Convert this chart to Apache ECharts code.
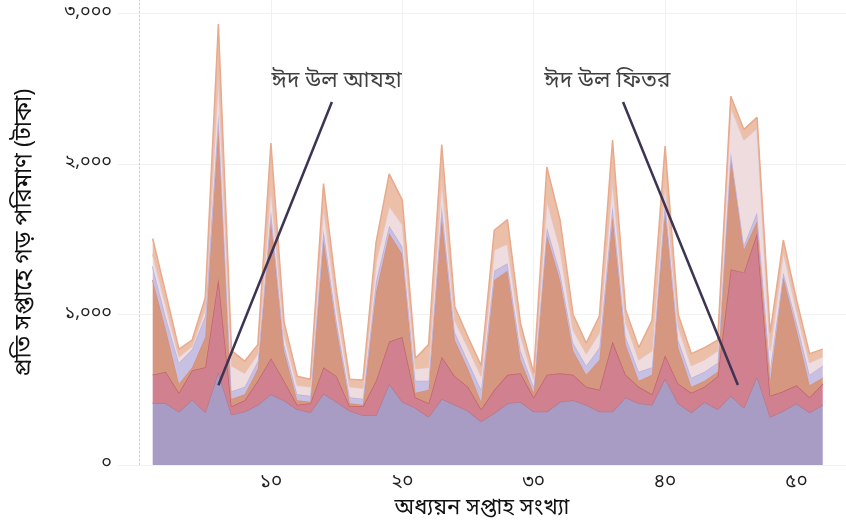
<!DOCTYPE html>
<html>
<head>
<meta charset="utf-8">
<script src="https://cdn.jsdelivr.net/npm/echarts@6/dist/echarts.min.js"></script>
<style>html,body{margin:0;padding:0;background:#fff}#c{width:846px;height:526px}</style>
</head>
<body>
<div id="c"></div>
<script>
// ---- data ----
const weeks = [1,2,3,4,5,6,7,8,9,10,11,12,13,14,15,16,17,18,19,20,21,22,23,24,25,26,27,28,29,30,31,32,33,34,35,36,37,38,39,40,41,42,43,44,45,46,47,48,49,50,51,52];
const layer1 = [410,410,355,435,350,620,335,355,400,470,430,370,350,475,420,360,330,330,540,420,380,320,440,400,360,290,345,410,420,355,355,420,430,400,355,355,450,410,400,575,410,350,420,370,460,380,590,320,360,410,350,400];
const layer2 = [190,210,125,195,300,620,55,75,160,240,130,30,60,175,170,30,60,230,280,430,70,90,280,190,160,80,155,190,190,95,245,190,170,120,145,465,150,110,70,155,130,130,100,220,840,900,950,140,130,120,100,140];
const layer3 = [630,280,60,20,200,1010,50,40,80,920,200,30,10,850,310,20,10,590,720,550,30,90,930,240,120,50,730,690,90,30,930,620,160,80,200,830,200,40,130,970,240,40,40,30,750,150,80,100,760,370,80,40];
const layer4 = [90,80,140,120,140,80,50,50,50,60,40,40,40,60,50,40,40,70,50,50,80,60,70,50,50,80,60,50,60,40,50,50,50,60,80,70,50,60,50,60,50,60,60,60,30,30,60,80,30,50,70,80];
const layer5 = [80,80,40,20,50,270,170,90,50,160,70,60,60,160,100,70,70,130,130,150,80,90,180,80,90,90,140,130,100,50,180,160,90,80,100,180,100,80,110,120,90,80,80,80,300,700,560,120,140,80,80,60];
const layer6 = [105,80,50,40,70,330,100,80,60,290,80,60,50,150,100,50,55,130,215,160,70,150,230,90,70,70,130,160,80,40,220,190,100,70,110,260,80,80,200,240,80,80,80,70,70,70,70,120,75,70,60,50];
const layerNames = ['স্তর ১','স্তর ২','স্তর ৩','স্তর ৪','স্তর ৫','স্তর ৬'];
const yTicks = [0,1000,2000,3000];
const xTicks = [10,20,30,40,50];
// annotations (data units)
const noteText = ['ঈদ উল আযহা','ঈদ উল ফিতর'];
const noteTextWeek = [15.0, 35.6];
const noteTextValue = [2540, 2540];
const noteStartWeek = [14.64, 36.8];
const noteStartValue = [2412, 2412];
const noteTipWeek = [6, 45.54];
const noteTipValue = [530, 532];

// ---- styling ----
const fills = ['#a89cc4','#d0808f','#d5977f','#c8c0e2','#eedcdf','#ecc0a8'];
const lines = ['#b47a8e','#c2636f','#d89178','#bcb2dc','#e6c6c8','#e8a98c'];
const FONT = '"Noto Sans Bengali","Noto Sans","DejaVu Sans",sans-serif';
const bn = n => String(n).replace(/\d/g, d => '০১২৩৪৫৬৭৮৯'[d]);
const fmtThousands = v => bn(v.toLocaleString('en-US'));
const X_MIN = -1.64, X_MAX = 53.77, Y_MAX = 3090;
const GL = 118, GW = 728, GTOP = 0, GBOT = 61;
// the category grid places week 1 and week 52 at their value positions
const pxPerWeek = GW / (X_MAX - X_MIN);
const catLeft = GL + (weeks[0] - X_MIN) * pxPerWeek;
const catRight = 846 - (GL + (weeks[weeks.length - 1] - X_MIN) * pxPerWeek);

const layers = [layer1, layer2, layer3, layer4, layer5, layer6];
const series = layers.map((arr, i) => ({
  name: layerNames[i],
  type: 'line',
  xAxisIndex: 1, yAxisIndex: 1,
  stack: 'total',
  symbol: 'none',
  data: arr,
  lineStyle: {color: lines[i], width: 1.5},
  areaStyle: {color: fills[i], opacity: 1},
  z: 2 + i
}));

noteText.forEach((t, i) => {
  series.push({
    type: 'line',
    xAxisIndex: 0, yAxisIndex: 0,
    symbol: 'none',
    data: [[noteStartWeek[i], noteStartValue[i]], [noteTipWeek[i], noteTipValue[i]]],
    lineStyle: {color: '#3c3452', width: 2.5},
    z: 20,
    silent: true
  });
});
series.push({
  type: 'scatter',
  xAxisIndex: 0, yAxisIndex: 0,
  symbolSize: 0,
  z: 21,
  data: noteText.map((t, i) => [noteTextWeek[i], noteTextValue[i], t]),
  label: {show: true, position: 'inside', formatter: p => p.data[2], color: '#111', fontSize: 22.5, fontFamily: FONT},
  markLine: {
    silent: true, symbol: 'none', label: {show: false},
    lineStyle: {color: '#cfcfcf', type: [2, 2], width: 1},
    data: [{xAxis: 0}]
  }
});

const chart = echarts.init(document.getElementById('c'), null, {renderer: 'canvas'});
chart.setOption({
  animation: false,
  backgroundColor: '#fff',
  grid: [
    {left: GL, width: GW, top: GTOP, bottom: GBOT, containLabel: false},
    {left: catLeft, right: catRight, top: GTOP, bottom: GBOT, containLabel: false}
  ],
  xAxis: [{
    type: 'value', gridIndex: 0,
    min: X_MIN, max: X_MAX,
    splitNumber: 5,
    axisLine: {show: false}, axisTick: {show: false},
    splitLine: {show: true, showMinLine: false, showMaxLine: false, lineStyle: {color: '#f1f1f1', width: 1}},
    axisLabel: {
      showMinLabel: false, showMaxLabel: false,
      formatter: v => xTicks.includes(v) ? bn(v) : '',
      color: '#222', fontSize: 19, margin: 9, fontFamily: FONT
    },
    name: 'অধ্যয়ন সপ্তাহ সংখ্যা', nameLocation: 'middle', nameGap: 34,
    nameTextStyle: {color: '#111', fontSize: 22, fontFamily: FONT}
  }, {
    type: 'category', gridIndex: 1, data: weeks, boundaryGap: false,
    show: false
  }],
  yAxis: [{
    type: 'value', gridIndex: 0,
    min: 0, max: Y_MAX, interval: 1000,
    axisLine: {show: false}, axisTick: {show: false},
    splitLine: {show: true, showMaxLine: false, lineStyle: {color: '#f1f1f1', width: 1}},
    axisLabel: {
      showMaxLabel: false,
      formatter: v => yTicks.includes(v) ? fmtThousands(v) : '',
      color: '#222', fontSize: 18, margin: 6, fontFamily: FONT
    },
    name: 'প্রতি সপ্তাহে গড় পরিমাণ (টাকা)', nameLocation: 'middle', nameGap: 80, nameRotate: 90,
    nameTextStyle: {color: '#111', fontSize: 23.5, fontFamily: FONT}
  }, {
    type: 'value', gridIndex: 1, min: 0, max: Y_MAX, show: false
  }],
  series: series
});
</script>
</body>
</html>
